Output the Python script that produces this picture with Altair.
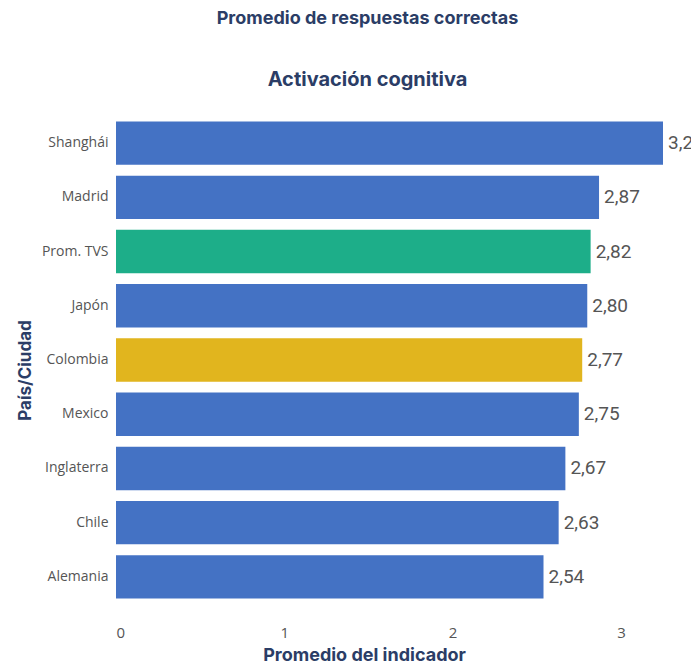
import altair as alt
import pandas as pd

paises = ["Shanghái", "Madrid", "Prom. TVS", "Japón", "Colombia", "Mexico", "Inglaterra", "Chile", "Alemania"]
valores = [3.25, 2.87, 2.82, 2.80, 2.77, 2.75, 2.67, 2.63, 2.54]
etiquetas = ["3,2", "2,87", "2,82", "2,80", "2,77", "2,75", "2,67", "2,63", "2,54"]
grupos = ["País", "País", "Promedio", "País", "Colombia", "País", "País", "País", "País"]

df = pd.DataFrame({"pais": paises, "valor": valores, "etiqueta": etiquetas, "grupo": grupos})

navy = "#2b3d66"
color = alt.Color("grupo:N",
                  scale=alt.Scale(domain=["País", "Promedio", "Colombia"],
                                  range=["#4472c4", "#1dae89", "#e1b51e"]),
                  legend=None)

y = alt.Y("pais:N", sort=paises,
          scale=alt.Scale(paddingInner=0.2, paddingOuter=0.1),
          axis=alt.Axis(title="País/Ciudad", domain=False, ticks=False, grid=False,
                        labelPadding=8, labelFont="Open Sans", labelFontSize=14,
                        labelColor="#555555", titleFont="Inter", titleFontSize=17,
                        titleFontWeight="bold", titleColor=navy, titleAngle=-90,
                        titleX=-91, titleY=254, titleAlign="center", titleBaseline="middle"))

x = alt.X("valor:Q", scale=alt.Scale(domain=[0, 3.25], nice=False),
          axis=alt.Axis(title="Promedio del indicador", values=[0, 1, 2, 3], format="d",
                        domain=False, ticks=False, grid=False, labelPadding=21,
                        labelFont="Open Sans", labelFontSize=15, labelColor="#555555",
                        titleFont="Inter", titleFontSize=18, titleFontWeight="bold",
                        titleColor=navy, titleX=248, titleY=51, titleAlign="center",
                        titleBaseline="middle"))

bars = alt.Chart(df).mark_bar().encode(y=y, x=x, color=color)
text = alt.Chart(df).mark_text(align="left", baseline="middle", dx=5, font="Roboto",
                               fontSize=19, color="#555555").encode(
    y=alt.Y("pais:N", sort=paises), x="valor:Q", text="etiqueta:N")

chart = (bars + text).properties(
    width=547, height=488,
    autosize=alt.AutoSizeParams(type="none"),
    padding={"left": 108, "top": 108, "right": 28, "bottom": 59},
    title=alt.Title(text="Promedio de respuestas correctas", subtitle="Activación cognitiva",
                    anchor="middle", frame="group", dx=-22, offset=26,
                    font="Inter", fontSize=18, fontWeight="bold", color=navy,
                    subtitleFont="Inter", subtitleFontSize=20, subtitleFontWeight="bold",
                    subtitleColor=navy, subtitlePadding=42)
).configure_view(stroke=None)

chart.save("out.html", embed_options={"renderer": "svg", "actions": False})
